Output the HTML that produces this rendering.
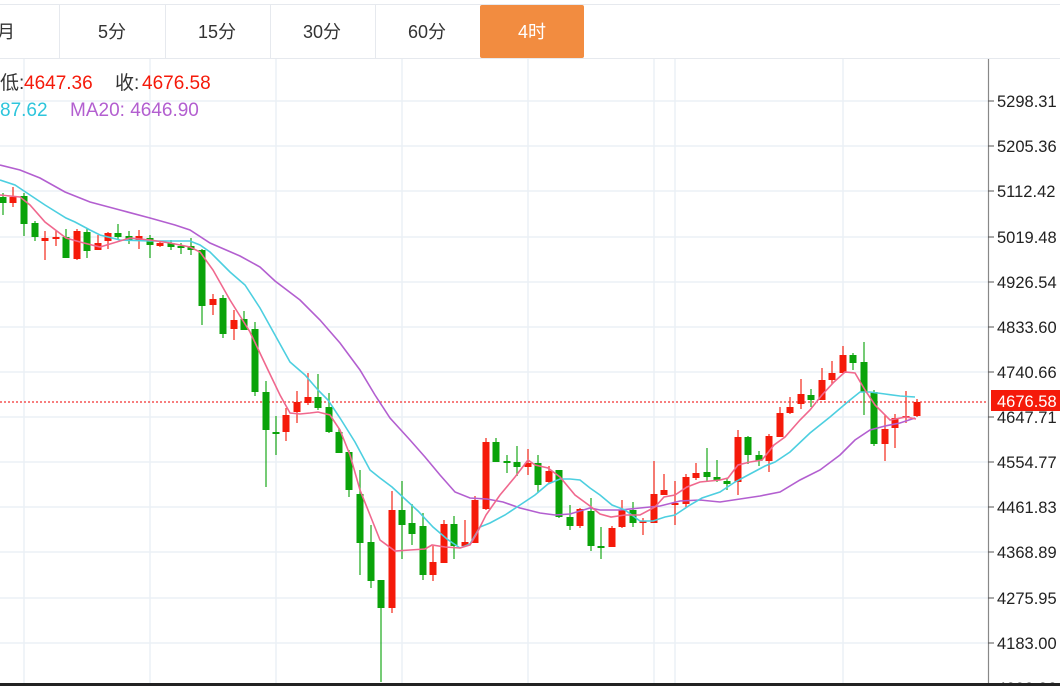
<!DOCTYPE html>
<html><head><meta charset="utf-8"><style>
html,body{margin:0;padding:0;background:#fff;width:1060px;height:686px;overflow:hidden;font-family:"Liberation Sans","Noto Sans CJK SC",sans-serif}
</style></head><body>
<svg width="1060" height="686" xmlns="http://www.w3.org/2000/svg" style="position:absolute;left:0;top:0">
<rect width="1060" height="686" fill="#fff"/>
<line x1="0" y1="4.5" x2="1060" y2="4.5" stroke="#e6e9ee"/>
<line x1="0" y1="58.5" x2="1060" y2="58.5" stroke="#e6e9ee"/>
<g stroke="#e6e9ee"><line x1="59.5" y1="5" x2="59.5" y2="58"/><line x1="165.5" y1="5" x2="165.5" y2="58"/><line x1="270.5" y1="5" x2="270.5" y2="58"/><line x1="375.5" y1="5" x2="375.5" y2="58"/></g>
<rect x="480" y="5" width="104" height="53" rx="2" fill="#f28c40"/>
<g font-size="18" fill="#333" text-anchor="middle" font-family="Liberation Sans, Noto Sans CJK SC, sans-serif">
<text x="6" y="38">月</text><text x="112" y="38">5分</text><text x="217" y="38">15分</text><text x="322" y="38">30分</text><text x="427" y="38">60分</text><text x="532" y="38" fill="#fff">4时</text>
</g>
<g stroke="#ebf0f5" stroke-width="1.5">
<line x1="0" y1="101" x2="988" y2="101"/><line x1="0" y1="146" x2="988" y2="146"/><line x1="0" y1="191" x2="988" y2="191"/><line x1="0" y1="237" x2="988" y2="237"/><line x1="0" y1="282" x2="988" y2="282"/><line x1="0" y1="327" x2="988" y2="327"/><line x1="0" y1="372" x2="988" y2="372"/><line x1="0" y1="417" x2="988" y2="417"/><line x1="0" y1="462" x2="988" y2="462"/><line x1="0" y1="507" x2="988" y2="507"/><line x1="0" y1="552" x2="988" y2="552"/><line x1="0" y1="598" x2="988" y2="598"/><line x1="0" y1="643" x2="988" y2="643"/>
<line x1="24" y1="59" x2="24" y2="684"/><line x1="150" y1="59" x2="150" y2="684"/><line x1="276" y1="59" x2="276" y2="684"/><line x1="402" y1="59" x2="402" y2="684"/><line x1="528" y1="59" x2="528" y2="684"/><line x1="654" y1="59" x2="654" y2="684"/><line x1="675" y1="59" x2="675" y2="684"/><line x1="843" y1="59" x2="843" y2="684"/>
</g>
<line x1="0" y1="402" x2="988" y2="402" stroke="#f23030" stroke-width="1.3" stroke-dasharray="2,2"/>
<g id="c"></g>
<polyline fill="none" stroke="#b35fd0" stroke-width="1.6" points="0,165 20,170 40,178 65,192 90,202 120,210 150,218 175,225 190,230 210,243 240,256 260,267 275,281 300,300 320,320 340,343 360,370 375,395 390,418 410,440 425,457 440,475 455,492 470,498 487,499 503,502 520,508 540,513 555,515 570,514 580,511 590,508 600,510 620,510 640,508 660,506 680,501 700,500 720,502 740,499 760,496 780,492 800,480 820,470 840,455 855,440 870,430 885,426 900,423 915,418"/>
<polyline fill="none" stroke="#4dcfe0" stroke-width="1.6" points="0,180 15,185 30,195 45,205 66,218 75,222 90,230 100,235 120,240 150,241 190,241 200,245 210,252 220,262 230,272 245,285 260,308 275,335 290,362 305,375 318,390 328,400 340,418 355,442 370,470 380,478 392,487 405,499 418,511 433,527 447,539 460,548 470,544 480,527 490,523 505,515 520,505 535,495 548,484 560,479 570,479 580,480 590,488 600,495 612,505 625,510 640,521 653,521 665,517 675,515 690,505 702,498 720,492 735,482 750,474 765,466 775,462 790,452 810,433 830,417 850,400 860,392 870,392 885,394 900,396 915,397"/>
<polyline fill="none" stroke="#f0688e" stroke-width="1.6" points="0,195 20,197 30,205 45,222 66,238 80,242 100,247 110,244 130,238 150,240 170,243 190,247 200,252 213,270 230,300 250,332 268,370 280,395 290,413 300,414 310,413 318,412 330,415 340,430 350,455 360,490 370,515 380,540 395,551 410,550 425,549 432,545 445,547 460,548 470,545 476,535 486,515 500,495 515,477 528,460 535,465 548,468 560,477 575,495 590,506 600,514 611,517 625,515 640,515 655,507 664,497 675,495 687,487 700,482 720,480 728,478 738,465 750,462 762,460 774,445 785,437 800,420 810,410 822,395 834,382 845,372 855,373 865,390 875,405 890,420 906,417 916,419"/>
<line x1="988.5" y1="59" x2="988.5" y2="686" stroke="#888" stroke-width="1.2"/>
<rect x="0" y="683" width="1060" height="3" fill="#222"/>
<g stroke="#555"><line x1="988" y1="101" x2="994" y2="101"/><line x1="988" y1="146" x2="994" y2="146"/><line x1="988" y1="191" x2="994" y2="191"/><line x1="988" y1="237" x2="994" y2="237"/><line x1="988" y1="282" x2="994" y2="282"/><line x1="988" y1="327" x2="994" y2="327"/><line x1="988" y1="372" x2="994" y2="372"/><line x1="988" y1="417" x2="994" y2="417"/><line x1="988" y1="462" x2="994" y2="462"/><line x1="988" y1="507" x2="994" y2="507"/><line x1="988" y1="552" x2="994" y2="552"/><line x1="988" y1="598" x2="994" y2="598"/><line x1="988" y1="643" x2="994" y2="643"/></g>
<g font-size="16.5" fill="#222" font-family="Liberation Sans, sans-serif">
<text x="997" y="107">5298.31</text><text x="997" y="152">5205.36</text><text x="997" y="197">5112.42</text><text x="997" y="243">5019.48</text><text x="997" y="288">4926.54</text><text x="997" y="333">4833.60</text><text x="997" y="378">4740.66</text><text x="997" y="423">4647.71</text><text x="997" y="468">4554.77</text><text x="997" y="513">4461.83</text><text x="997" y="558">4368.89</text><text x="997" y="604">4275.95</text><text x="997" y="649">4183.00</text><text x="997" y="694">4090.06</text>
</g>
<rect x="991" y="390" width="69" height="21" fill="#f51a0a"/>
<text x="997" y="407" font-size="16.5" fill="#fff" font-family="Liberation Sans, sans-serif">4676.58</text>
<g font-size="19" font-family="Liberation Sans, Noto Sans CJK SC, sans-serif">
<text x="0" y="89" fill="#333">低:</text><text x="24" y="89" fill="#f51a0a">4647.36</text>
<text x="115" y="89" fill="#333">收:</text><text x="142" y="89" fill="#f51a0a">4676.58</text>
<text x="0" y="116" fill="#2ec5dc">87.62</text><text x="70" y="116" fill="#b35fd0">MA20: 4646.90</text>
</g>
</svg>
<script>
var d=[
[3,'g',197,203,193,215],[13,'r',197,203,187,207],[24,'g',196,224,193,236],[35,'g',223,237,221,241],[45,'r',238,241,231,260],[56,'r',237,239,231,246],[66,'g',237,258,229,258],[77,'r',231,259,229,260],[87,'g',232,251,228,258],[98,'r',243,250,235,250],[108,'r',233,241,232,249],[118,'g',233,237,224,240],[129,'g',236,241,231,244],[139,'r',236,241,230,249],[150,'g',238,245,235,258],[160,'r',243,246,242,247],[171,'g',243,247,240,250],[181,'g',246,247,243,254],[191,'g',246,250,238,255],[202,'g',250,306,249,325],[213,'r',299,305,294,315],[223,'g',298,334,295,338],[234,'r',320,329,310,340],[244,'g',319,330,311,330],[255,'g',329,392,322,396],[266,'g',392,430,381,487],[276,'g',432,434,416,455],[286,'r',415,432,408,441],[297,'r',402,412,391,423],[308,'r',397,403,373,405],[318,'g',397,408,374,410],[329,'g',407,432,393,433],[339,'g',432,453,428,453],[349,'g',452,490,450,497],[360,'g',494,543,470,575],[371,'g',542,581,525,588],[381,'g',580,608,580,682],[392,'r',510,608,491,613],[402,'g',510,525,481,559],[412,'g',523,534,504,545],[423,'g',526,575,513,580],[433,'r',562,575,546,581],[444,'r',524,563,520,563],[454,'g',524,546,516,559],[465,'r',542,546,520,546],[475,'r',500,543,496,543],[486,'r',442,509,438,510],[496,'g',442,462,438,462],[507,'g',461,463,455,473],[517,'g',462,467,446,476],[528,'r',463,467,449,475],[538,'g',463,485,455,493],[549,'r',471,482,466,483],[559,'g',470,517,470,518],[570,'g',517,526,505,530],[580,'r',509,526,508,528],[591,'g',511,546,498,551],[601,'g',546,548,527,559],[612,'r',528,547,526,547],[622,'r',510,527,500,528],[633,'g',510,523,502,527],[643,'r',521,523,518,535],[654,'r',494,523,461,523],[664,'r',490,495,474,495],[675,'r',503,504,481,525],[686,'r',477,504,474,507],[696,'r',473,478,463,480],[707,'g',472,477,448,481],[717,'g',477,480,460,482],[727,'g',481,484,478,490],[738,'r',437,482,430,495],[748,'g',437,455,436,464],[759,'g',455,461,451,466],[769,'r',436,461,434,472],[780,'r',413,437,407,437],[790,'r',407,413,397,414],[801,'r',394,404,379,409],[811,'g',395,400,389,407],[822,'r',380,400,368,400],[832,'r',373,380,361,384],[843,'r',355,373,346,373],[853,'g',355,363,353,370],[864,'g',362,392,342,415],[874,'g',392,444,390,446],[885,'r',429,444,415,461],[895,'r',418,428,414,448],[906,'r',416,418,391,423],[917,'r',402,416,399,417]];
var s='';d.forEach(function(c){var col=c[1]=='g'?'#0aa30a':'#f51a0a';var h=Math.max(2,c[3]-c[2]);
s+='<line x1="'+c[0]+'" y1="'+c[4]+'" x2="'+c[0]+'" y2="'+c[5]+'" stroke="'+col+'" stroke-width="1.4" opacity="0.8"/>';
s+='<rect x="'+(c[0]-3.5)+'" y="'+c[2]+'" width="7" height="'+h+'" fill="'+col+'"/>';});
document.getElementById('c').innerHTML=s;
</script>
</body></html>
